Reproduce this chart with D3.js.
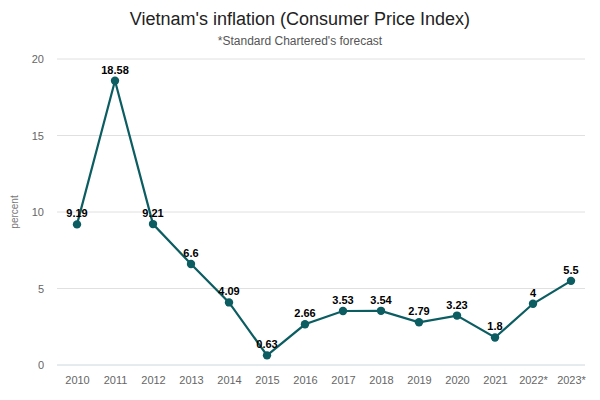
<!DOCTYPE html>
<html><head><meta charset="utf-8">
<script src="https://cdn.jsdelivr.net/npm/d3@7"></script>
<style>body{margin:0;background:#fff}svg{display:block;font-family:"Liberation Sans",Arial,sans-serif}</style>
</head><body><svg id="c" width="600" height="400"></svg>
<script>
const years = ["2010","2011","2012","2013","2014","2015","2016","2017","2018","2019","2020","2021","2022*","2023*"];
const inflation = [9.19,18.58,9.21,6.6,4.09,0.63,2.66,3.53,3.54,2.79,3.23,1.8,4,5.5];
const labels = ["9.19","18.58","9.21","6.6","4.09","0.63","2.66","3.53","3.54","2.79","3.23","1.8","4","5.5"];
const yTicks = [0,5,10,15,20];

const svg = d3.select("#c");
const mLeft = 57, mRight = 585, mTop = 59, mBottom = 365;
const x = d3.scalePoint().domain(years).range([77, 571]).padding(0);
const y = d3.scaleLinear().domain([0,20]).range([mBottom, mTop]);
const color = "#0b5d62";

svg.append("text").attr("x",300).attr("y",25).attr("text-anchor","middle")
  .attr("font-size",18).attr("fill","#222").text("Vietnam's inflation (Consumer Price Index)");
svg.append("text").attr("x",300).attr("y",45).attr("text-anchor","middle")
  .attr("font-size",12).attr("fill","#555").text("*Standard Chartered's forecast");

svg.append("g").selectAll("line").data(yTicks.filter(d=>d>0)).join("line")
  .attr("x1",mLeft).attr("x2",mRight).attr("y1",d=>y(d)).attr("y2",d=>y(d))
  .attr("stroke","#e0e0e0").attr("stroke-width",1);
svg.append("line").attr("x1",mLeft).attr("x2",mRight).attr("y1",y(0)).attr("y2",y(0))
  .attr("stroke","#ccd6e0").attr("stroke-width",1);

const ya = d3.axisLeft(y).tickValues(yTicks).tickSize(0).tickPadding(0);
const gy = svg.append("g").attr("transform",`translate(${mLeft-13},0)`).call(ya);
gy.select(".domain").remove();
gy.selectAll("text").attr("font-size",11).attr("fill","#666").attr("font-family","Liberation Sans, Arial, sans-serif");

const xa = d3.axisBottom(x).tickSize(0).tickPadding(0);
const gx = svg.append("g").attr("transform",`translate(0,${mBottom+11})`).call(xa);
gx.select(".domain").remove();
gx.selectAll("text").attr("font-size",11).attr("fill","#666").attr("font-family","Liberation Sans, Arial, sans-serif");

svg.append("text").attr("transform",`translate(18,${(mTop+mBottom)/2}) rotate(-90)`)
  .attr("text-anchor","middle").attr("font-size",10).attr("fill","#777").text("percent");

const data = years.map((d,i)=>({year:d,v:inflation[i],l:labels[i]}));
svg.append("path").datum(data)
  .attr("d", d3.line().x(d=>x(d.year)).y(d=>y(d.v)))
  .attr("fill","none").attr("stroke",color).attr("stroke-width",2.2);
svg.append("g").selectAll("circle").data(data).join("circle")
  .attr("cx",d=>x(d.year)).attr("cy",d=>y(d.v)).attr("r",4.2).attr("fill",color);
svg.append("g").selectAll("text").data(data).join("text")
  .attr("x",d=>x(d.year)).attr("y",d=>y(d.v)-7)
  .attr("text-anchor","middle").attr("font-size",11).attr("font-weight","bold").attr("fill","#000")
  .text(d=>d.l);
</script></body></html>
